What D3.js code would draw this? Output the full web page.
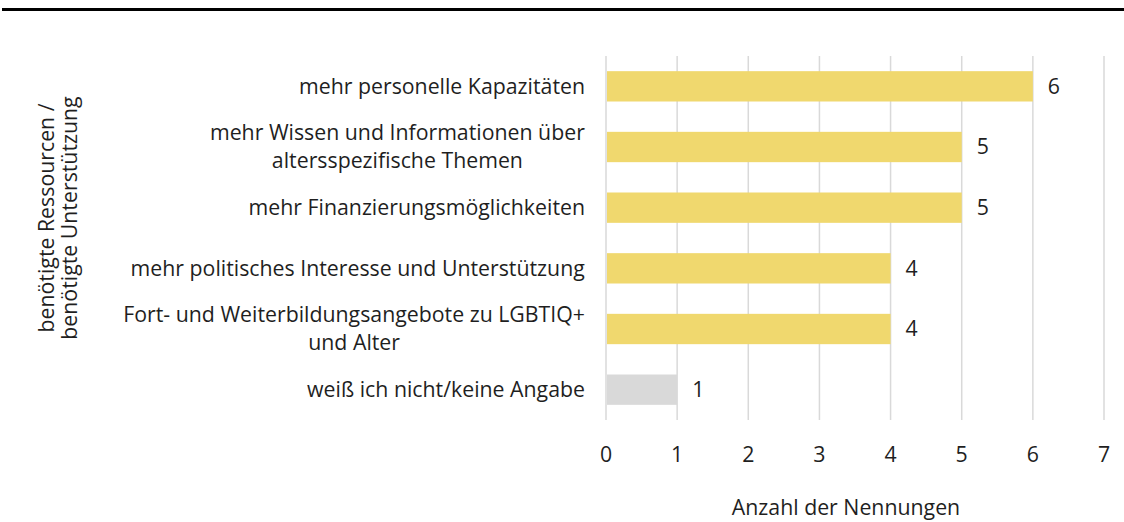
<!DOCTYPE html>
<html>
<script src="https://cdn.jsdelivr.net/npm/d3@7"></script>
<style>
    body { margin: 0; background: #fff; }
    text { font-family: "Open Sans", "Noto Sans", sans-serif; fill: #1f1f1f; }
</style>
<body>
<svg width="1124" height="522"></svg>
<script>
    // categories (each as its label lines), values and fill colours
    const categories = [
        ["mehr personelle Kapazitäten"],
        ["mehr Wissen und Informationen über", "altersspezifische Themen"],
        ["mehr Finanzierungsmöglichkeiten"],
        ["mehr politisches Interesse und Unterstützung"],
        ["Fort- und Weiterbildungsangebote zu LGBTIQ+", "und Alter"],
        ["weiß ich nicht/keine Angabe"]
    ];
    const values = [6, 5, 5, 4, 4, 1];
    const isNoAnswer = [false, false, false, false, false, true];
    const xTicks = [0, 1, 2, 3, 4, 5, 6, 7];
    const xTitle = "Anzahl der Nennungen";
    const yTitle = ["benötigte Ressourcen /", "benötigte Unterstützung"];

    const svg = d3.select("svg");
    const fontSize = 21.3;

    // top rule
    svg.append("rect").attr("x", 2).attr("y", 8).attr("width", 1122).attr("height", 3).attr("fill", "#000");

    const x = d3.scaleLinear().domain([0, 7]).range([606, 1104]);
    const y = d3.scaleBand().domain(d3.range(categories.length)).range([56, 420]).paddingInner(0.5).paddingOuter(0.25);

    // gridlines
    svg.append("g").selectAll("line")
        .data(xTicks)
        .enter().append("line")
        .attr("x1", d => x(d)).attr("x2", d => x(d))
        .attr("y1", 56).attr("y2", 420)
        .attr("stroke", "#d9d9d9").attr("stroke-width", 1.5);

    // bars
    svg.append("g").selectAll("rect")
        .data(values)
        .enter().append("rect")
        .attr("x", x(0) + 1)
        .attr("y", (d, i) => y(i))
        .attr("width", d => x(d) - x(0) - 1)
        .attr("height", y.bandwidth())
        .attr("fill", (d, i) => isNoAnswer[i] ? "#d9d9d9" : "#f0d86e");

    // value labels
    svg.append("g").selectAll("text")
        .data(values)
        .enter().append("text")
        .attr("x", d => x(d) + 15)
        .attr("y", (d, i) => y(i) + y.bandwidth() / 2)
        .attr("dy", "0.35em")
        .style("font-size", fontSize + "px")
        .text(d => d);

    // category labels, multi-line centred on the widest line, right aligned to axis
    const catG = svg.append("g");
    categories.forEach(function (lines, i) {
        const t = catG.append("text").style("font-size", fontSize + "px").attr("text-anchor", "middle");
        const lh = 28;
        const cy = y(i) + y.bandwidth() / 2;
        lines.forEach(function (l, j) {
            t.append("tspan").attr("x", 0)
                .attr("y", cy + (j - (lines.length - 1) / 2) * lh)
                .attr("dy", "0.35em")
                .text(l);
        });
        const w = t.node().getBBox().width;
        t.attr("transform", "translate(" + (585 - w / 2) + ",0)");
    });

    // x tick labels
    svg.append("g").selectAll("text")
        .data(xTicks)
        .enter().append("text")
        .attr("x", d => x(d))
        .attr("y", 455)
        .attr("dy", "0.35em")
        .attr("text-anchor", "middle")
        .style("font-size", fontSize + "px")
        .text(d => d);

    // axis titles
    svg.append("text")
        .attr("x", 846)
        .attr("y", 508)
        .attr("dy", "0.35em")
        .attr("text-anchor", "middle")
        .style("font-size", fontSize + "px")
        .text(xTitle);

    const yt = svg.append("text")
        .attr("transform", "translate(58,218) rotate(-90)")
        .attr("text-anchor", "middle")
        .style("font-size", fontSize + "px");
    yTitle.forEach(function (l, j) {
        yt.append("tspan").attr("x", 0).attr("y", (j - 0.5) * 23).attr("dy", "0.35em").text(l);
    });
</script>
</body>
</html>
